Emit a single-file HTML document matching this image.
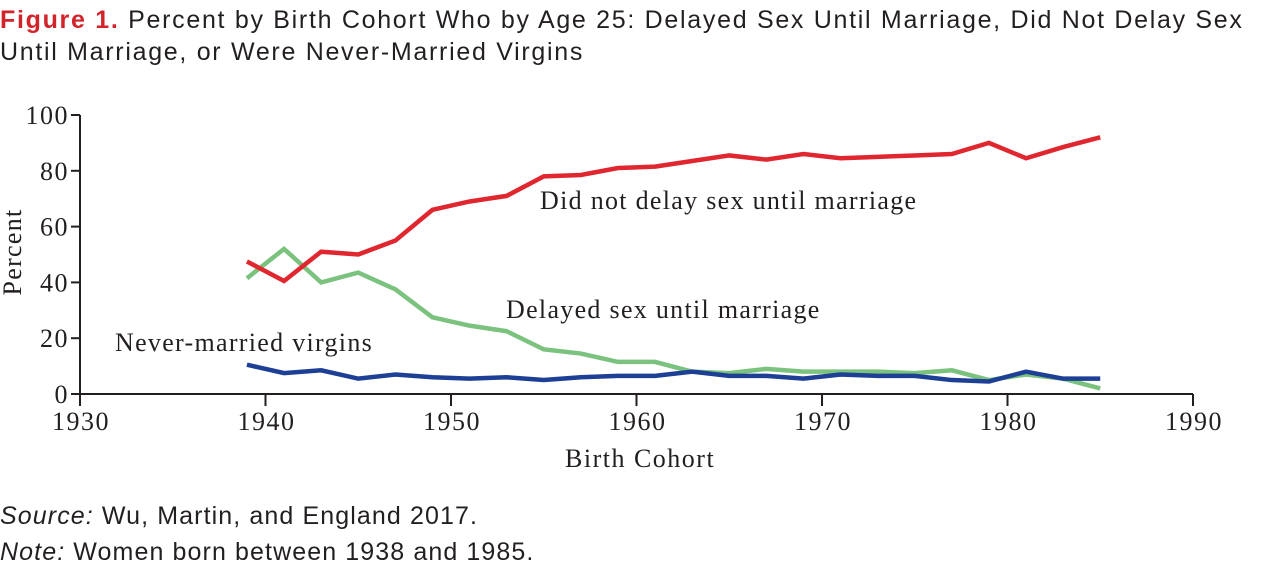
<!DOCTYPE html>
<html><head><meta charset="utf-8">
<style>
body{margin:0;width:1280px;height:566px;background:#fff;overflow:hidden;font-family:"Liberation Sans",sans-serif;color:#231f20}
.title{position:absolute;left:0;top:4px;font-size:25px;letter-spacing:1.7px;line-height:32px;width:1290px}
.title b{color:#d2232a}
.foot{position:absolute;left:0;font-size:25px;letter-spacing:1.1px}
svg{position:absolute;left:0;top:0}
svg text{font-family:"Liberation Serif",serif;fill:#231f20}
</style></head><body>
<div class="title"><b>Figure 1.</b> Percent by Birth Cohort Who by Age 25: Delayed Sex Until Marriage, Did Not Delay Sex Until Marriage, or Were Never-Married Virgins</div>
<svg id="chart" width="1280" height="566"></svg>
<div class="foot" style="top:502px"><i>Source:</i> Wu, Martin, and England 2017.</div>
<div class="foot" style="top:538px"><i>Note:</i> Women born between 1938 and 1985.</div>
<script>
const years=[1939,1941,1943,1945,1947,1949,1951,1953,1955,1957,1959,1961,1963,1965,1967,1969,1971,1973,1975,1977,1979,1981,1983,1985];
const didNotDelay=[47.5,40.5,51,50,55,66,69,71,78,78.5,81,81.5,83.5,85.5,84,86,84.5,85,85.5,86,90,84.5,88.5,92];
const delayed=[41.5,52,40,43.5,37.5,27.5,24.5,22.5,16,14.5,11.5,11.5,8,7.5,9,8,8,8,7.5,8.5,5,7,5.5,2];
const virgins=[10.5,7.5,8.5,5.5,7,6,5.5,6,5,6,6.5,6.5,8,6.5,6.5,5.5,7,6.5,6.5,5,4.5,8,5.5,5.5];
const xTicks=[1930,1940,1950,1960,1970,1980,1990];
const yTicks=[0,20,40,60,80,100];
const X=y=>80+(y-1930)*18.55;
const Y=v=>394-v*2.79;
const svg=document.getElementById('chart');
const NS='http://www.w3.org/2000/svg';
function mk(t,a){const e=document.createElementNS(NS,t);for(const k in a)e.setAttribute(k,a[k]);svg.appendChild(e);return e;}
let ax=mk('line',{x1:X(1930),y1:Y(0),x2:X(1990),y2:Y(0),stroke:'#231f20','stroke-width':2});


let ay=mk('line',{x1:X(1930),y1:Y(0),x2:X(1930),y2:Y(100),stroke:'#231f20','stroke-width':2});


xTicks.forEach(t=>{
 const l=mk('line',{x1:X(t),y1:Y(0),x2:X(t),y2:Y(0)+12,stroke:'#231f20','stroke-width':2});
 
 
 const tx=mk('text',{x:X(t)+1,y:430,'text-anchor':'middle','font-size':26,'letter-spacing':1.5});tx.textContent=t;
 
 
});
yTicks.forEach(t=>{
 const l=mk('line',{x1:X(1930)-9,y1:Y(t),x2:X(1930),y2:Y(t),stroke:'#231f20','stroke-width':2});
 
 
 const tx=mk('text',{x:X(1930)-11,y:Y(t)+9,'text-anchor':'end','font-size':26,'letter-spacing':1.5});tx.textContent=t;
 
 
});
function series(vals,color,name){
 const p=mk('polyline',{points:vals.map((v,i)=>X(years[i])+','+Y(v)).join(' '),fill:'none',stroke:color,'stroke-width':4.5,'stroke-linejoin':'miter'});
 
 
}
series(delayed,'#7cc27f','delayed-line');
series(virgins,'#1e3f96','virgins-line');
series(didNotDelay,'#e0262e','did-not-delay-line');
function label(txt,x,y,name){const t=mk('text',{x:x,y:y,'font-size':26,'letter-spacing':1.3});t.textContent=txt;
 
 }
label('Did not delay sex until marriage',540,209,'did-not-delay-label');
label('Delayed sex until marriage',506,318,'delayed-label');
label('Never-married virgins',115,351,'virgins-label');
const xt=mk('text',{x:565,y:467,'font-size':26,'letter-spacing':1.5});xt.textContent='Birth Cohort';


const yt=mk('text',{x:0,y:0,'text-anchor':'middle','font-size':26,'letter-spacing':1.3,transform:'translate(21,252) rotate(-90)'});yt.textContent='Percent';


</script>
</body></html>
